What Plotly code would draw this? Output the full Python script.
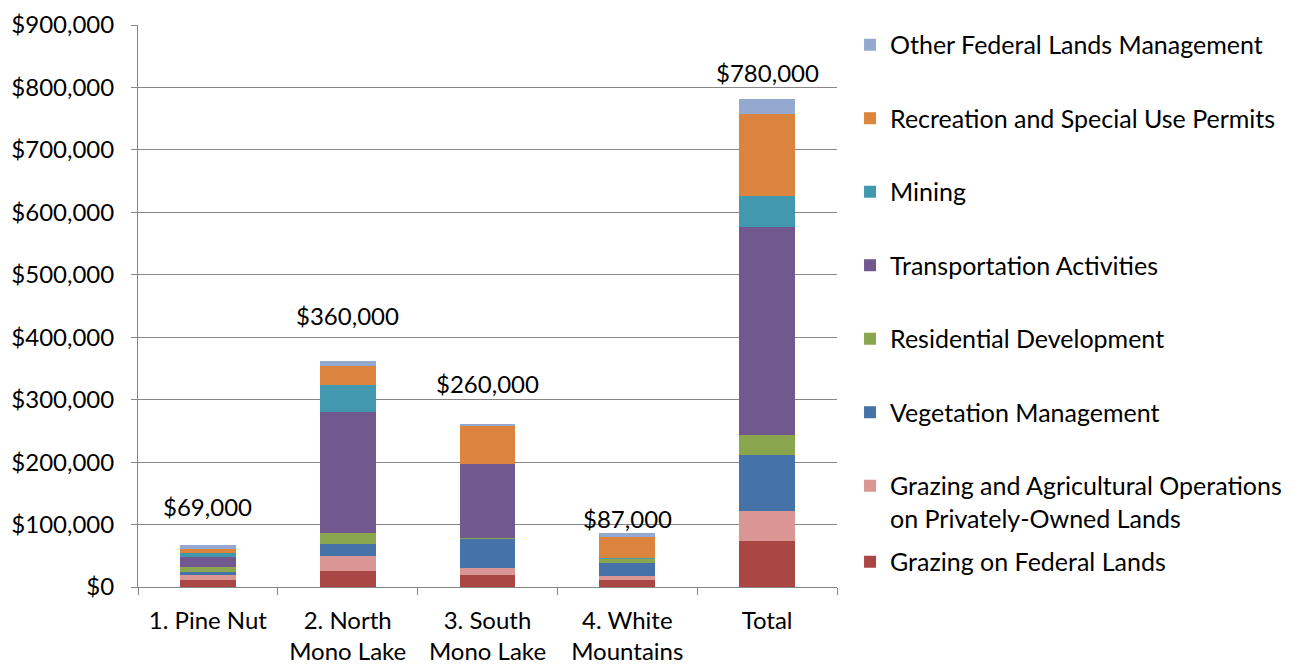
import plotly.graph_objects as go

categories = ["1. Pine Nut", "2. North<br>Mono Lake", "3. South<br>Mono Lake", "4. White<br>Mountains", "Total"]

series_names = [
    "Grazing on Federal Lands",
    "Grazing and Agricultural Operations<br>on Privately-Owned Lands",
    "Vegetation Management",
    "Residential Development",
    "Transportation Activities",
    "Mining",
    "Recreation and Special Use Permits",
    "Other Federal Lands Management",
]

grazing_federal = [12000, 25000, 20000, 12000, 74000]
grazing_private = [8000, 24000, 10000, 6000, 47000]
vegetation = [4000, 20000, 47000, 20000, 90000]
residential = [8000, 17000, 1000, 7000, 32000]
transportation = [16000, 195000, 119000, 1000, 334000]
mining = [6000, 43000, 500, 1000, 49000]
recreation = [7000, 30000, 60000, 33000, 132000]
other = [6000, 8000, 4000, 7000, 23000]

total_labels = ["$69,000", "$360,000", "$260,000", "$87,000", "$780,000"]

colors = ["#AA4643", "#D99694", "#4572A7", "#89A54E", "#71588F", "#4198AF", "#DB843D", "#93A9CF"]
label_offsets = [62000, 72000, 64000, 22000, 43000]

series_values = [grazing_federal, grazing_private, vegetation, residential,
                 transportation, mining, recreation, other]

FONT = "Lato"
FS = 24
LFS = 25

fig = go.Figure()
n = len(series_names)
for i, (name, vals) in enumerate(zip(series_names, series_values)):
    fig.add_trace(go.Bar(
        x=categories, y=vals, name=name,
        marker=dict(color=colors[i], line=dict(width=0)),
        legendgroup=f"g{i}",
        legendrank=n - i,
        legend="legend2" if i == 0 else "legend",
        hoverinfo="name+y",
    ))

totals = [sum(s[j] for s in series_values) for j in range(len(categories))]
for j, cat in enumerate(categories):
    fig.add_annotation(x=cat, y=totals[j] + label_offsets[j], text=total_labels[j],
                       showarrow=False, yanchor="middle",
                       font=dict(family=FONT, size=FS, color="#000000"))

fig.update_layout(
    barmode="stack",
    bargap=0.6,
    width=1283, height=656,
    margin=dict(l=130, r=454, t=17, b=77, autoexpand=False),
    plot_bgcolor="white", paper_bgcolor="white",
    font=dict(family=FONT, size=FS, color="#000000"),
    xaxis=dict(showline=True, linecolor="#868686", linewidth=1,
               ticks="outside", tickson="boundaries", ticklen=7, tickcolor="#868686",
               showgrid=False, tickfont=dict(size=FS), ticklabelstandoff=12,
               automargin=False),
    yaxis=dict(range=[0, 900000], dtick=100000, tickprefix="$", tickformat=",",
               showline=True, linecolor="#868686", linewidth=1,
               ticks="outside", ticklen=6, tickcolor="#868686",
               showgrid=True, gridcolor="#868686", gridwidth=1,
               zeroline=False, tickfont=dict(size=FS), ticklabelstandoff=12,
               automargin=False),
    legend=dict(xref="container", yref="container", x=0.6563, xanchor="left",
                y=0.9787, yanchor="top", maxheight=640,
                traceorder="grouped", tracegroupgap=38,
                valign="top", font=dict(size=LFS), bgcolor="rgba(0,0,0,0)"),
    legend2=dict(xref="container", yref="container", x=0.6563, xanchor="left",
                 y=0.1555, yanchor="middle", maxheight=640,
                 font=dict(size=LFS), bgcolor="rgba(0,0,0,0)"),
    showlegend=True,
)

fig.write_html("out.html")
